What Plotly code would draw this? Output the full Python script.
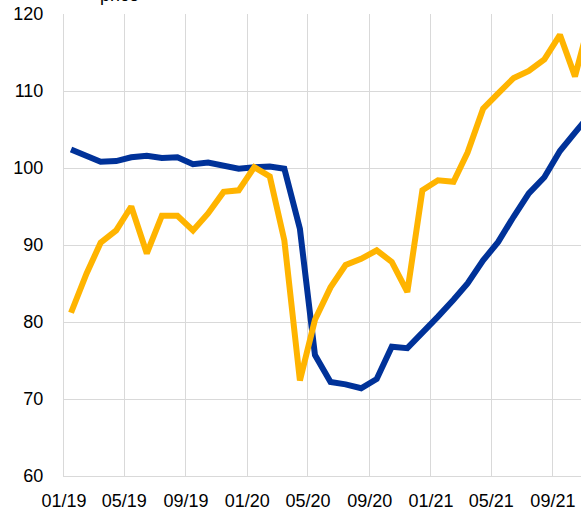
import plotly.graph_objects as go
import pandas as pd

dates = pd.date_range("2019-01-01", periods=35, freq="MS") + pd.Timedelta(days=14)
dates = [d.strftime("%Y-%m-%d") for d in dates]

blue_values = [102.4, 101.5, 100.8, 100.9, 101.4, 101.6, 101.3, 101.4, 100.5, 100.7,
               100.3, 99.9, 100.1, 100.2, 99.9, 92.1, 75.7, 72.2, 71.9, 71.4,
               72.6, 76.8, 76.6, 78.5, 80.7, 82.9, 85.0, 88.0, 90.4, 93.7,
               96.7, 98.8, 102.2, 104.6, 107.0]
yellow_values = [81.2, 86.3, 90.3, 91.9, 95.0, 88.9, 93.8, 93.8, 91.9, 94.1,
                 96.9, 97.1, 100.1, 98.9, 90.6, 72.4, 80.3, 84.5, 87.4, 88.2,
                 89.3, 87.8, 83.9, 97.1, 98.4, 98.2, 102.0, 107.7, 109.7, 111.7,
                 112.6, 114.1, 117.3, 111.9, 119.5]

tick_vals = ["2019-01-01", "2019-05-01", "2019-09-01", "2020-01-01", "2020-05-01",
             "2020-09-01", "2021-01-01", "2021-05-01", "2021-09-01"]
tick_text = ["01/19", "05/19", "09/19", "01/20", "05/20", "09/20", "01/21", "05/21", "09/21"]

fig = go.Figure()
fig.add_trace(go.Scatter(x=dates, y=blue_values, mode="lines",
                         line=dict(color="#003299", width=6), showlegend=False))
fig.add_trace(go.Scatter(x=dates, y=yellow_values, mode="lines",
                         line=dict(color="#FFB400", width=6), showlegend=False))

grid = "#d9d9d9"
fig.update_layout(
    width=581, height=510,
    margin=dict(l=64, r=0, t=14, b=34),
    paper_bgcolor="white", plot_bgcolor="white",
    font=dict(family="Liberation Sans, Arial", size=18, color="#000000"),
    xaxis=dict(type="date", range=["2019-01-01", "2021-10-27"],
               tickvals=tick_vals, ticktext=tick_text,
               showgrid=True, gridcolor=grid, gridwidth=1,
               showline=True, linecolor=grid, linewidth=1,
               ticks="", ticklabelstandoff=8, automargin=False),
    yaxis=dict(range=[60, 120], dtick=10, tick0=60,
               showgrid=True, gridcolor=grid, gridwidth=1,
               showline=True, linecolor=grid, linewidth=1,
               ticks="", ticklabelstandoff=16, zeroline=False, automargin=False),
    annotations=[dict(text="price", xref="paper", yref="paper", x=0.108, y=1,
                      xanchor="center", yanchor="bottom", yshift=7,
                      showarrow=False, font=dict(size=18))],
)

fig.write_html("out.html", config={"displayModeBar": False},
               post_script="document.body.style.margin='0';document.body.style.overflow='hidden';")
